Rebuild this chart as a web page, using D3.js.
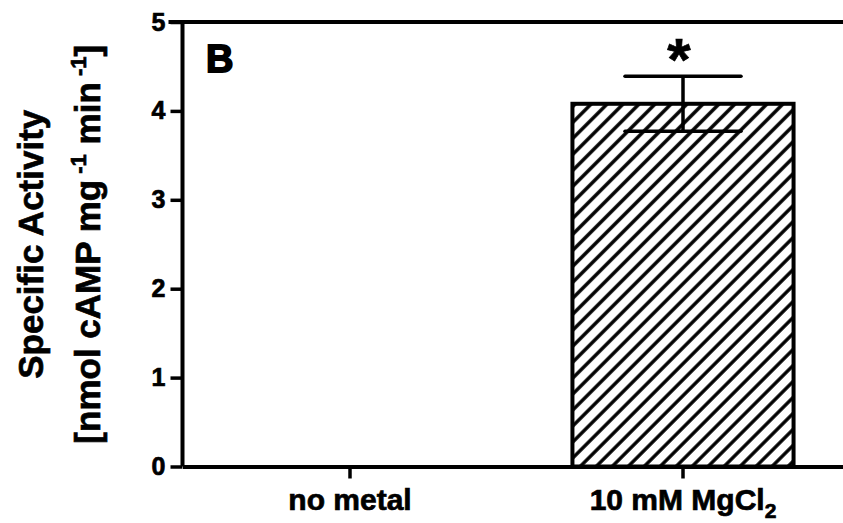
<!DOCTYPE html>
<html>
<head>
<meta charset="utf-8">
<script src="https://cdn.jsdelivr.net/npm/d3@7"></script>
<style>
  html, body { margin: 0; padding: 0; background: #fff; }
  svg { display: block; }
  text { font-family: "Liberation Sans", Arial, sans-serif; font-weight: bold; fill: #000; stroke: #000; stroke-width: 0.7px; }
</style>
</head>
<body>
<svg id="chart" width="843" height="523"></svg>
<script>
// ---- data ----
const categories = ["no metal", "10 mM MgCl2"];
const values = [0, 4.08];
const errors = [0, 0.31];
const significance = ["", "*"];
const yTicks = [0, 1, 2, 3, 4, 5];
const panelLabel = "B";

// ---- layout ----
const svg = d3.select("#chart");
const x0 = 182.5, x1 = 850.5, yTop = 22, yBot = 466.5;

const x = d3.scaleBand().domain(categories).range([x0, x1])
  .paddingInner(0.336).paddingOuter(0.171);
const y = d3.scaleLinear().domain([0, 5]).range([yBot, yTop]);

// hatch pattern
const P = 11.3;
const defs = svg.append("defs");
const pat = defs.append("pattern")
  .attr("id", "hatch").attr("patternUnits", "userSpaceOnUse")
  .attr("width", P).attr("height", P)
  .attr("patternTransform", "rotate(45)");
pat.append("rect").attr("width", P).attr("height", P).attr("fill", "#fff");
pat.append("line").attr("x1", P / 2).attr("y1", 0).attr("x2", P / 2).attr("y2", P)
  .attr("stroke", "#000").attr("stroke-width", 3.4);

// bars
const g = svg.append("g");
g.selectAll("rect.bar").data(categories).join("rect")
  .attr("class", "bar")
  .attr("x", d => x(d))
  .attr("width", x.bandwidth())
  .attr("y", (d, i) => y(values[i]))
  .attr("height", (d, i) => y(0) - y(values[i]))
  .attr("fill", "url(#hatch)")
  .attr("stroke", "#000").attr("stroke-width", (d, i) => values[i] > 0 ? 4 : 0);

// error bars
const capHalf = 58;
categories.forEach((c, i) => {
  if (errors[i] <= 0) return;
  const cx = x(c) + x.bandwidth() / 2;
  g.append("line").attr("x1", cx).attr("x2", cx)
    .attr("y1", y(values[i] - errors[i])).attr("y2", y(values[i] + errors[i]))
    .attr("stroke", "#000").attr("stroke-width", 3.5);
  [values[i] + errors[i], values[i] - errors[i]].forEach(v => {
    g.append("line").attr("x1", cx - capHalf).attr("x2", cx + capHalf)
      .attr("y1", y(v)).attr("y2", y(v))
      .attr("stroke", "#000").attr("stroke-width", 3.5).attr("stroke-linecap", "round");
  });
  if (significance[i]) {
    g.append("text").attr("x", cx - 4).attr("y", y(values[i] + errors[i]) + 4)
      .attr("text-anchor", "middle").style("font-size", "60px")
      .text(significance[i]);
  }
});

// y axis
const yAxis = d3.axisLeft(y).tickValues(yTicks).tickSize(12).tickPadding(5)
  .tickFormat(d3.format("d"));
const ya = svg.append("g").attr("transform", `translate(${x0},0)`).call(yAxis);
ya.select(".domain").attr("stroke-width", 4).attr("d", `M0,${yTop}V${yBot}`);
ya.selectAll(".tick line").attr("stroke-width", 3.5);
ya.selectAll(".tick text").style("font-size", "25px").style("font-family", "Liberation Sans, Arial, sans-serif")
  .style("font-weight", "bold");

// top frame line
svg.append("line").attr("x1", x0 - 14).attr("x2", x1).attr("y1", yTop).attr("y2", yTop)
  .attr("stroke", "#000").attr("stroke-width", 4);

// x axis
const xAxis = d3.axisBottom(x).tickSize(12).tickSizeOuter(0).tickFormat("");
const xa = svg.append("g").attr("transform", `translate(0,${yBot})`).call(xAxis);
xa.select(".domain").attr("stroke-width", 4);
xa.selectAll(".tick line").attr("stroke-width", 3.5);

// x labels (with subscript)
categories.forEach(c => {
  const t = svg.append("text").attr("x", x(c) + x.bandwidth() / 2).attr("y", 510)
    .attr("text-anchor", "middle").style("font-size", "30px");
  const m = c.match(/^(.*?)(\d)$/);
  if (c.startsWith("10 mM") && m) {
    t.append("tspan").text(m[1]);
    t.append("tspan").attr("dy", 8).style("font-size", "21px").text(m[2]);
  } else {
    t.text(c);
  }
});

// y label
const yl = svg.append("g").attr("transform", `translate(0,${(yTop + yBot) / 2}) rotate(-90)`);
yl.append("text").attr("x", 0).attr("y", 43).attr("text-anchor", "middle")
  .style("font-size", "35px").text("Specific Activity");
const l2 = yl.append("text").attr("x", 0).attr("y", 100).attr("text-anchor", "middle")
  .style("font-size", "35px");
l2.append("tspan").text("[nmol cAMP mg");
l2.append("tspan").attr("dy", -14).style("font-size", "22px").text(" -1");
l2.append("tspan").attr("dy", 14).text(" min");
l2.append("tspan").attr("dy", -14).style("font-size", "22px").text(" -1");
l2.append("tspan").attr("dy", 14).text("]");

// panel label
svg.append("text").attr("x", 206).attr("y", 72).style("font-size", "38px")
  .style("font-weight", "900").style("stroke", "#000").style("stroke-width", 1.8)
  .text(panelLabel);
</script>
</body>
</html>
